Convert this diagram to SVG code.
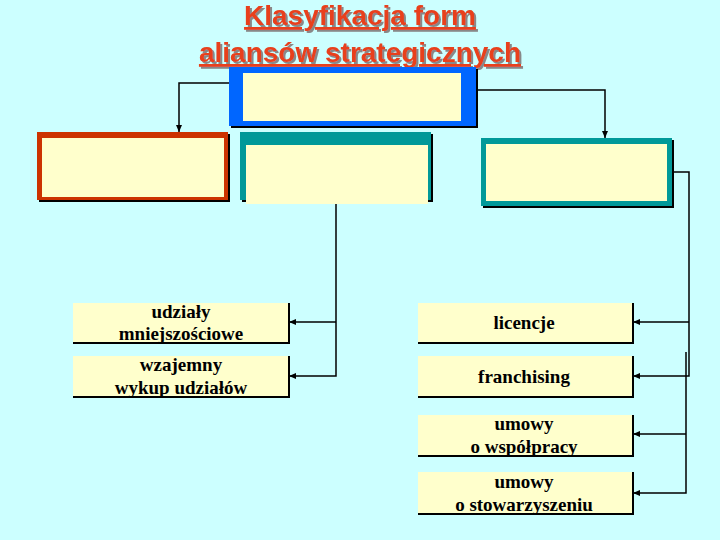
<svg xmlns="http://www.w3.org/2000/svg" width="720" height="540" viewBox="0 0 720 540">
<defs>
<style>
.t{font-family:"Liberation Sans",Arial,sans-serif;font-weight:bold;font-size:28px;fill:#e8401c;text-decoration:underline;text-anchor:middle}
.l{font-family:"Liberation Serif","Times New Roman",serif;font-weight:bold;font-size:19px;fill:#000;text-anchor:middle}
.c{fill:none;stroke:#000;stroke-width:1.5}
.cr{fill:#ffffcc}
.sh{fill:none;stroke:#000;stroke-width:2}
</style>
<filter id="ds" x="-10%" y="-30%" width="120%" height="160%"><feDropShadow dx="2" dy="2" stdDeviation="0.5" flood-color="#888"/></filter>
<marker id="a" markerWidth="8" markerHeight="8" refX="7" refY="4" orient="auto" markerUnits="userSpaceOnUse"><path d="M0,1 L7,4 L0,7 z" fill="#000"/></marker>
</defs>
<rect width="720" height="540" fill="#ccffff"/>
<g filter="url(#ds)">
<text class="t" x="360" y="25">Klasyfikacja form</text>
<text class="t" x="360" y="62">aliansów strategicznych</text>
</g>
<g id="top"><rect x="231" y="69" width="247" height="59" fill="#000"/><rect x="229" y="67" width="247" height="59" fill="#0066ff"/><rect x="243" y="73" width="218" height="48" class="cr"/></g>
<g id="left"><rect x="39" y="134" width="191" height="68" fill="#000"/><rect x="37" y="132" width="191" height="68" fill="#cc3300"/><rect x="42" y="138" width="182" height="59" class="cr"/></g>
<g id="mid"><rect x="242" y="134" width="191" height="68" fill="#000"/><rect x="240" y="132" width="191" height="68" fill="#009999"/><rect x="246" y="145" width="182" height="59" class="cr"/></g>
<g id="right"><rect x="483" y="140" width="191" height="68" fill="#000"/><rect x="481" y="138" width="191" height="68" fill="#009999"/><rect x="486" y="144" width="181" height="57" class="cr"/></g>
<g id="n1"><rect x="73" y="303" width="216" height="40" class="cr"/><path d="M73,343 H289 V303" class="sh"/><text class="l" x="181" y="318">udziały</text><text class="l" x="181" y="340">mniejszościowe</text></g>
<g id="n2"><rect x="73" y="356" width="216" height="41" class="cr"/><path d="M73,397 H289 V356" class="sh"/><text class="l" x="181" y="371">wzajemny</text><text class="l" x="181" y="394">wykup udziałów</text></g>
<g id="n3"><rect x="418" y="303" width="215" height="40" class="cr"/><path d="M418,343 H633 V303" class="sh"/><text class="l" x="524" y="329">licencje</text></g>
<g id="n4"><rect x="418" y="356" width="215" height="41" class="cr"/><path d="M418,397 H633 V356" class="sh"/><text class="l" x="524" y="383">franchising</text></g>
<g id="n5"><rect x="418" y="415" width="215" height="41" class="cr"/><path d="M418,456 H633 V415" class="sh"/><text class="l" x="524" y="430">umowy</text><text class="l" x="524" y="453">o współpracy</text></g>
<g id="n6"><rect x="418" y="472" width="215" height="42" class="cr"/><path d="M418,514 H633 V472" class="sh"/><text class="l" x="524" y="488">umowy</text><text class="l" x="524" y="511">o stowarzyszeniu</text></g>
<g id="connectors">
<path class="c" d="M229,83 H179 V132" marker-end="url(#a)"/>
<path class="c" d="M478,90 H605 V138" marker-end="url(#a)"/>
<path class="c" d="M336,204 V376 H289" marker-end="url(#a)"/>
<path class="c" d="M336,322 H289" marker-end="url(#a)"/>
<path class="c" d="M672,172 H689 V376 H633" marker-end="url(#a)"/>
<path class="c" d="M689,322 H633" marker-end="url(#a)"/>
<path class="c" d="M686,352 V493 H633" marker-end="url(#a)"/>
<path class="c" d="M686,434 H633" marker-end="url(#a)"/>
</g>
</svg>
